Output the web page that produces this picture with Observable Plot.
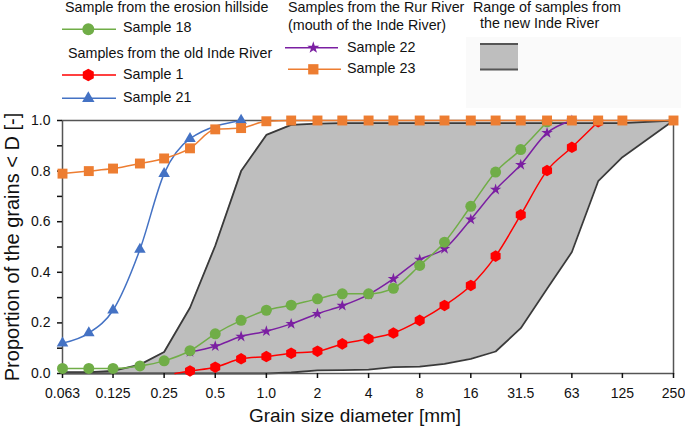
<!DOCTYPE html>
<html>
<head>
<meta charset="utf-8">
<script src="https://cdn.jsdelivr.net/npm/d3@7"></script>
<script src="https://cdn.jsdelivr.net/npm/@observablehq/plot@0.6"></script>
<style>
  html, body { margin: 0; padding: 0; background: #fff; }
  #wrap { width: 685px; }
  #wrap svg { display: block; }
</style>
</head>
<body>
<div id="wrap"></div>
<script>
const FONT = '"Liberation Sans", Arial, Helvetica, sans-serif';

// ---------- data ----------
const xTicks = [0.063, 0.125, 0.25, 0.5, 1, 2, 4, 8, 16, 31.5, 63, 125, 250];
const xTickLabels = ["0.063", "0.125", "0.25", "0.5", "1.0", "2", "4", "8", "16", "31.5", "63", "125", "250"];
const yTicks = [0, 0.1, 0.2, 0.3, 0.4, 0.5, 0.6, 0.7, 0.8, 0.9, 1.0];

// Range of samples from the new Inde River
const rangeSizes = [0.063, 0.09, 0.125, 0.18, 0.25, 0.355, 0.5, 0.71, 1, 1.4, 2, 2.8, 4, 5.6, 8, 11.2, 16, 22.4, 31.5, 45, 63, 90, 125, 250];
const rangeUpper = [0.005, 0.005, 0.01, 0.035, 0.085, 0.26, 0.505, 0.80, 0.943, 0.983, 0.988, 0.99, 0.99, 0.99, 0.99, 0.99, 0.99, 0.99, 0.99, 0.99, 0.99, 0.99, 0.99, 1.0];
const rangeLower = [0, 0, 0, 0, 0, 0, 0, 0, 0, 0.004, 0.012, 0.013, 0.015, 0.025, 0.027, 0.038, 0.058, 0.087, 0.179, 0.335, 0.48, 0.76, 0.855, 1.0];

// Sample 1 (old Inde River) - first point is the line start without marker
const s1Sizes = [0.29, 0.355, 0.5, 0.71, 1, 1.4, 2, 2.8, 4, 5.6, 8, 11.2, 16, 22.4, 31.5, 45, 63, 90];
const s1Values = [0, 0.01, 0.025, 0.058, 0.067, 0.08, 0.088, 0.117, 0.137, 0.16, 0.21, 0.269, 0.348, 0.464, 0.627, 0.802, 0.894, 0.995];

// Sample 21 (old Inde River)
const s21Sizes = [0.063, 0.09, 0.125, 0.18, 0.25, 0.355, 0.71];
const s21Values = [0.12, 0.16, 0.25, 0.49, 0.79, 0.928, 1.0];

// Sample 18 (erosion hillside)
const s18Sizes = [0.063, 0.09, 0.125, 0.18, 0.25, 0.355, 0.5, 0.71, 1, 1.4, 2, 2.8, 4, 5.6, 8, 11.2, 16, 22.4, 31.5, 45];
const s18Values = [0.02, 0.02, 0.02, 0.03, 0.05, 0.09, 0.157, 0.21, 0.25, 0.27, 0.295, 0.315, 0.315, 0.337, 0.427, 0.519, 0.661, 0.796, 0.885, 0.995];

// Sample 22 (Rur River)
const s22Sizes = [0.355, 0.5, 0.71, 1, 1.4, 2, 2.8, 4, 5.6, 8, 11.2, 16, 22.4, 31.5, 45, 63];
const s22Values = [0.085, 0.108, 0.146, 0.167, 0.196, 0.236, 0.268, 0.312, 0.374, 0.45, 0.493, 0.609, 0.727, 0.825, 0.951, 1.0];

// Sample 23 (Rur River)
const s23Sizes = [0.063, 0.09, 0.125, 0.18, 0.25, 0.355, 0.5, 0.71, 1, 1.4, 2, 2.8, 4, 5.6, 8, 11.2, 16, 22.4, 31.5, 45, 63, 90, 125, 250];
const s23Values = [0.79, 0.80, 0.81, 0.83, 0.85, 0.89, 0.965, 0.97, 0.997, 1.0, 1.0, 1.0, 1.0, 1.0, 1.0, 1.0, 1.0, 1.0, 1.0, 1.0, 1.0, 1.0, 1.0, 1.0];

// ---------- helpers ----------
const rows = (sizes, values) => sizes.map((d, i) => ({d, v: values[i]}));
const rangeRows = rangeSizes.map((d, i) => ({d, lo: rangeLower[i], hi: rangeUpper[i]}));
const s1 = rows(s1Sizes, s1Values);
const s21 = rows(s21Sizes, s21Values);
const s18 = rows(s18Sizes, s18Values);
const s22 = rows(s22Sizes, s22Values);
const s23 = rows(s23Sizes, s23Values);
const xTickRows = xTicks.map((d, i) => ({d, label: xTickLabels[i]}));

const C = {s18: "#70ad47", s1: "#ff0000", s21: "#4472c4", s22: "#7b1fa2", s23: "#ed7d31"};

// ---------- legend (above the plot) ----------
const hexagon = {
  draw(ctx, size) {
    const rx = Math.sqrt(size / Math.PI), ry = rx * Math.sqrt(4 / 3), hy = ry / 2;
    ctx.moveTo(0, ry); ctx.lineTo(rx, hy); ctx.lineTo(rx, -hy);
    ctx.lineTo(0, -ry); ctx.lineTo(-rx, -hy); ctx.lineTo(-rx, hy); ctx.closePath();
  }
};
const legend = d3.create("svg").attr("width", 685).attr("height", 108)
  .attr("font-family", FONT).attr("font-size", 14.3).attr("fill", "#111");
legend.append("rect").attr("x", 466).attr("y", 37).attr("width", 215).attr("height", 71).attr("fill", "#fafafa");

const texts = [
  [65, 11.7, "Sample from the erosion hillside"],
  [123, 32.3, "Sample 18"],
  [68, 58.3, "Samples from the old Inde River"],
  [123, 79.3, "Sample 1"],
  [123, 101.7, "Sample 21"],
  [288, 11.7, "Samples from the Rur River"],
  [288, 29.5, "(mouth of the Inde River)"],
  [347, 51.7, "Sample 22"],
  [347, 73.3, "Sample 23"],
  [473, 11.7, "Range of samples from"],
  [480, 28.3, "the new Inde River"]
];
for (const [x, y, t] of texts) legend.append("text").attr("x", x).attr("y", y).text(t);

const swatches = [
  {x1: 62, x2: 116, y: 29.3, cx: 88.3, color: C.s18, type: d3.symbolCircle, r: 6},
  {x1: 62, x2: 116, y: 75, cx: 88.3, color: C.s1, type: hexagon, r: 5.5},
  {x1: 62, x2: 116, y: 98.3, cx: 88.3, color: C.s21, type: d3.symbolTriangle, r: 4.6},
  {x1: 285, x2: 338, y: 47.7, cx: 313.3, color: C.s22, type: d3.symbolStar, r: 3.8},
  {x1: 288, x2: 341, y: 69.3, cx: 313.3, color: C.s23, type: d3.symbolSquare, r: 5.8}
];
for (const s of swatches) {
  legend.append("line").attr("x1", s.x1).attr("x2", s.x2).attr("y1", s.y).attr("y2", s.y)
    .attr("stroke", s.color).attr("stroke-width", 1.6);
  legend.append("path").attr("transform", `translate(${s.cx},${s.y})`)
    .attr("d", d3.symbol(s.type, Math.PI * s.r * s.r)()).attr("fill", s.color);
}
legend.append("rect").attr("x", 480).attr("y", 43).attr("width", 38).attr("height", 27).attr("fill", "#bebebe");
legend.append("line").attr("x1", 480).attr("x2", 518).attr("y1", 44).attr("y2", 44).attr("stroke", "#555").attr("stroke-width", 2);
legend.append("line").attr("x1", 480).attr("x2", 518).attr("y1", 69.5).attr("y2", 69.5).attr("stroke", "#555").attr("stroke-width", 2);

// ---------- plot ----------
const lineOpts = (color) => ({x: "d", y: "v", stroke: color, strokeWidth: 1.5, curve: "monotone-x"});

const chart = Plot.plot({
  width: 685,
  height: 321,
  marginTop: 12,
  marginRight: 12,
  marginBottom: 56,
  marginLeft: 62,
  style: {fontFamily: FONT, fontSize: "14px", color: "#111", background: "#fff"},
  x: {type: "log", domain: [0.063, 250]},
  y: {domain: [0, 1]},
  marks: [
    Plot.areaY(rangeRows, {x: "d", y1: "lo", y2: "hi", fill: "#bebebe"}),
    Plot.line(rangeRows, {x: "d", y: "hi", stroke: "#3a3a3a", strokeWidth: 1.8}),
    Plot.line(rangeRows, {x: "d", y: "lo", stroke: "#3a3a3a", strokeWidth: 1.8}),
    Plot.frame({stroke: "#555", strokeWidth: 1.5}),
    Plot.axisX({ticks: xTicks, tickFormat: () => "", tickSize: 5, label: null, strokeWidth: 1.5}),
    Plot.text(xTickRows, {x: "d", text: "label", frameAnchor: "bottom", lineAnchor: "top", dy: 15, fontSize: 14, fill: "#111"}),
    Plot.axisY({ticks: yTicks, tickFormat: d => (Math.round(d * 10) % 2 === 0 ? d.toFixed(1) : ""), tickSize: 5, tickPadding: 7, label: null, strokeWidth: 1.5}),
    Plot.text(["Grain size diameter [mm]"], {frameAnchor: "bottom", dx: -13, dy: 42, fontSize: 19, lineAnchor: "middle", textAnchor: "middle", fill: "#111"}),
    Plot.text(["Proportion of the grains < D [-]"], {frameAnchor: "left", dx: -50, rotate: -90, fontSize: 20, lineAnchor: "middle", textAnchor: "middle", fill: "#111"}),
    // Sample 1
    Plot.line(s1, lineOpts(C.s1)),
    Plot.dot(s1.slice(1), {x: "d", y: "v", symbol: "hexagon", r: 5, fill: C.s1}),
    // Sample 22
    Plot.line(s22, lineOpts(C.s22)),
    Plot.dot(s22, {x: "d", y: "v", symbol: "star", r: 3.6, fill: C.s22}),
    // Sample 18
    Plot.line(s18, lineOpts(C.s18)),
    Plot.dot(s18, {x: "d", y: "v", symbol: "circle", r: 5.5, fill: C.s18}),
    // Sample 21
    Plot.line(s21, lineOpts(C.s21)),
    Plot.dot(s21, {x: "d", y: "v", symbol: "triangle", r: 4.3, fill: C.s21}),
    // Sample 23
    Plot.line(s23, lineOpts(C.s23)),
    Plot.dot(s23, {x: "d", y: "v", symbol: "square", r: 5.6, fill: C.s23})
  ]
});

const wrap = document.getElementById("wrap");
wrap.appendChild(legend.node());
wrap.appendChild(chart);
</script>
</body>
</html>
